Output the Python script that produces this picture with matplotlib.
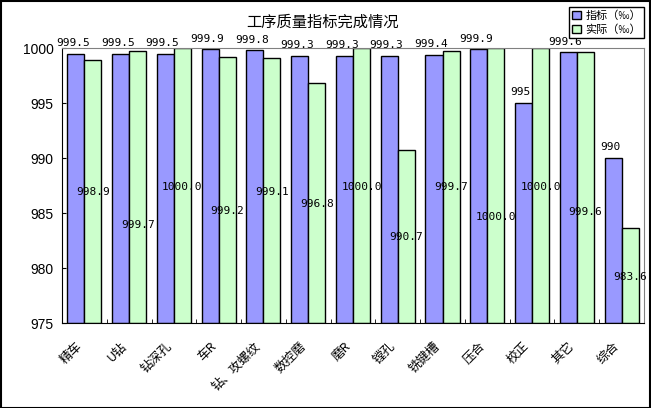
import matplotlib.pyplot as plt
import matplotlib.patches as mpatches
import numpy as np

plt.rcParams['font.family'] = ['Noto Sans CJK SC', 'DejaVu Sans']

gongxu = ['精车', 'U钻', '钻深孔', '车R', '钻、攻螺纹', '数控磨', '磨R',
          '镗孔', '铣键槽', '压合', '校正', '其它', '综合']
zhibiao = [999.5, 999.5, 999.5, 999.9, 999.8, 999.3, 999.3,
           999.3, 999.4, 999.9, 995.0, 999.6, 990.0]
shiji = [998.9, 999.7, 1000.0, 999.2, 999.1, 996.8, 1000.0,
         990.7, 999.7, 1000.0, 1000.0, 999.6, 983.6]

# height (in data units) where each 实际 label sits, as placed in the original
shiji_label_y = [986.9, 983.9, 987.4, 985.2, 986.9, 985.8, 987.4,
                 982.8, 987.4, 984.6, 987.4, 985.1, 979.2]

blue = '#9999FF'
green = '#CCFFCC'

fig = plt.figure(figsize=(6.51, 4.08), dpi=100)
ax = fig.add_axes([0.0952, 0.2083, 0.894, 0.674])

x = np.arange(len(gongxu))
w = 0.38
base = 975
ax.bar(x - w / 2, np.array(zhibiao) - base, w, bottom=base, color=blue,
       edgecolor='black', linewidth=1, label='指标（‰）')
ax.bar(x + w / 2, np.array(shiji) - base, w, bottom=base, color=green,
       edgecolor='black', linewidth=1, label='实际（‰）')

# 指标 labels above the blue bars
for xi, v in zip(x, zhibiao):
    ax.annotate(f'{v:g}', (xi - w / 2, v), xytext=(-2, 4),
                textcoords='offset points', ha='center', va='bottom',
                fontsize=8, family='DejaVu Sans Mono', annotation_clip=False)

# 实际 labels inside the green bars
for xi, v, ly in zip(x, shiji, shiji_label_y):
    ax.text(xi + w / 2, ly, f'{v:.1f}', ha='center', va='center',
            fontsize=8, family='DejaVu Sans Mono')

ax.set_xlim(-0.5, len(gongxu) - 0.5)
ax.set_ylim(975, 1000)
ax.set_yticks(np.arange(975, 1001, 5))
ax.set_yticklabels([str(t) for t in range(975, 1001, 5)],
                   family='Liberation Sans', fontsize=10)
ax.tick_params(axis='y', direction='in', length=3, pad=6)

ax.set_xticks(x)
ax.set_xticklabels(gongxu, rotation=45, ha='right', va='top', fontsize=9)
ax.tick_params(axis='x', which='major', length=0, pad=12)
ax.set_xticks(np.arange(-0.5, len(gongxu), 1), minor=True)
ax.tick_params(axis='x', which='minor', direction='in', length=3)

for s in ['top', 'right']:
    ax.spines[s].set_color('#808080')
for s in ['left', 'bottom']:
    ax.spines[s].set_color('black')

fig.text(0.495, 0.945, '工序质量指标完成情况', ha='center', va='center', fontsize=11)

leg = fig.legend(loc='upper right', bbox_to_anchor=(0.998, 0.996), fontsize=8,
                 handlelength=0.8, handleheight=0.8, handletextpad=0.4,
                 borderpad=0.3, labelspacing=0.3, fancybox=False,
                 framealpha=1, edgecolor='black')
leg.get_frame().set_linewidth(1)

fig.patches.append(mpatches.Rectangle((0.001, 0.001), 0.998, 0.997,
                                      transform=fig.transFigure, fill=False,
                                      edgecolor='black', linewidth=1.5))

fig.savefig('out.png', dpi=100)
